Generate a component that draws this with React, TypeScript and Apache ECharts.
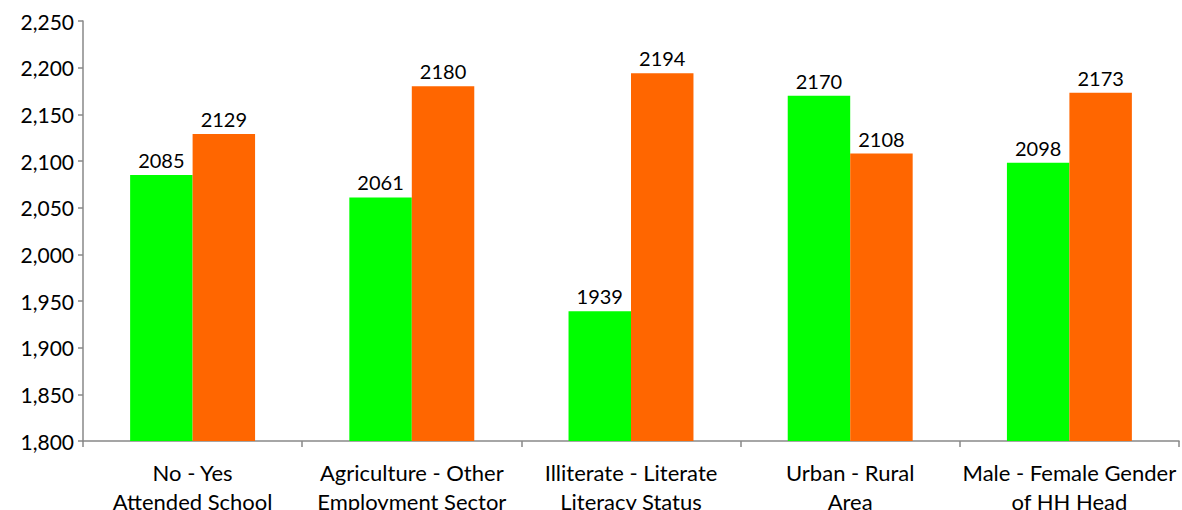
import React, { useEffect, useRef } from "react";
import * as echarts from "echarts";

// Category labels (two lines each) and the values for the two groups.
const categories = [
  "No - Yes\nAttended School",
  "Agriculture - Other\nEmployment Sector",
  "Illiterate - Literate\nLiteracy Status",
  "Urban - Rural\nArea",
  "Male - Female Gender\nof HH Head",
];
const firstGroup = [2085, 2061, 1939, 2170, 2098];
const secondGroup = [2129, 2180, 2194, 2108, 2173];
const yMin = 1800;
const yMax = 2250;
const yStep = 50;

const FONT = "Lato";
const axisGray = "#888888";

export default function App() {
  const ref = useRef<HTMLDivElement>(null);

  useEffect(() => {
    if (!ref.current) return;
    const chart = echarts.init(ref.current, null, { renderer: "svg" });
    const label = {
      show: true,
      position: "top" as const,
      distance: 5,
      color: "#000",
      fontFamily: FONT,
      fontSize: 20,
    };
    chart.setOption({
      animation: false,
      grid: {
        left: 83,
        right: 3,
        top: 21,
        bottom: 69,
        containLabel: false,
        outerBoundsMode: "none",
      },
      xAxis: {
        type: "category",
        data: categories,
        axisLine: { lineStyle: { color: axisGray, width: 1.5 } },
        axisTick: { show: true, length: 6, lineStyle: { color: axisGray, width: 1.5 } },
        axisLabel: {
          color: "#000",
          fontFamily: FONT,
          fontSize: 22,
          lineHeight: 29,
          margin: 17,
          interval: 0,
        },
      },
      yAxis: {
        type: "value",
        min: yMin,
        max: yMax,
        interval: yStep,
        axisLine: { show: true, lineStyle: { color: axisGray, width: 1.5 } },
        axisTick: { show: true, length: 5, lineStyle: { color: axisGray, width: 1.5 } },
        splitLine: { show: false },
        axisLabel: {
          color: "#000",
          fontFamily: FONT,
          fontSize: 21,
          margin: 9,
          formatter: (v: number) => v.toLocaleString("en-US"),
        },
      },
      series: [
        {
          type: "bar",
          data: firstGroup,
          itemStyle: { color: "#00ff00" },
          barGap: "0%",
          barCategoryGap: "43%",
          label,
        },
        {
          type: "bar",
          data: secondGroup,
          itemStyle: { color: "#ff6600" },
          barGap: "0%",
          barCategoryGap: "43%",
          label,
        },
      ],
    });
    return () => chart.dispose();
  }, []);

  return (
    <div
      ref={ref}
      style={{ position: "absolute", left: 0, top: 0, width: 1182, height: 510 }}
    />
  );
}
